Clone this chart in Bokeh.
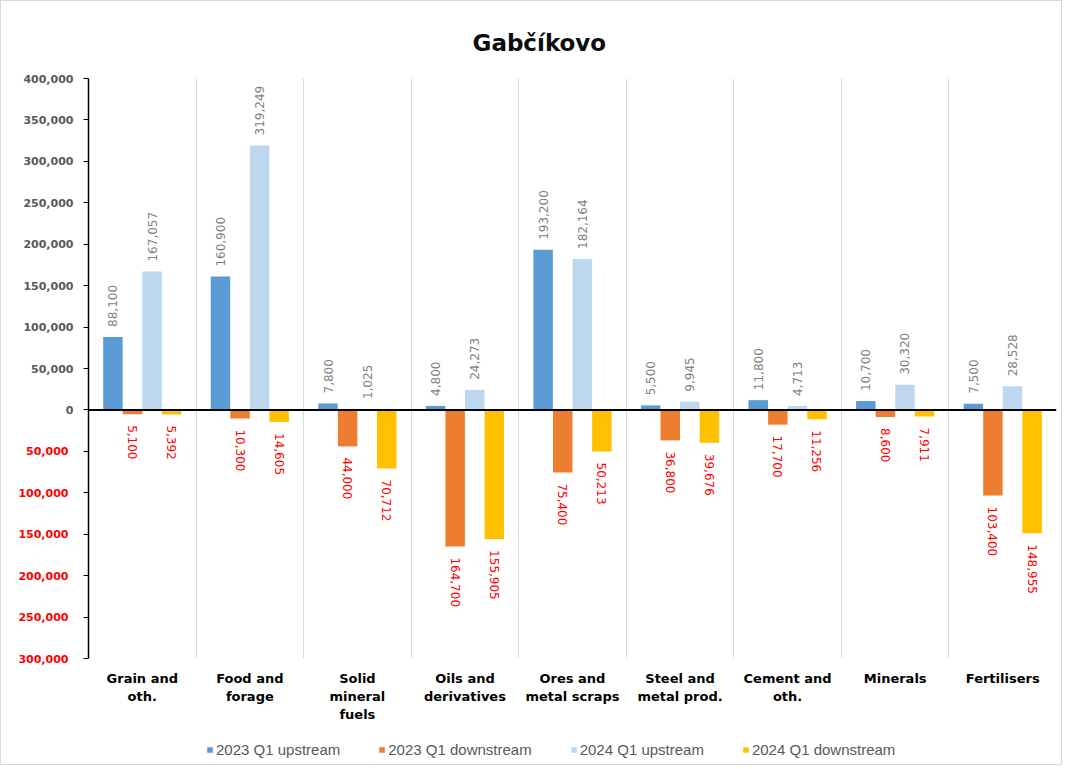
import math
from bokeh.plotting import figure
from bokeh.layouts import column
from bokeh.models import (ColumnDataSource, FixedTicker, Span, Legend, LegendItem,
                          LinearAxis, NumeralTickFormatter, CustomJSTickFormatter, Range1d)
from bokeh.core.properties import value
from bokeh.embed import file_html
from bokeh.resources import INLINE

# ---------------- data ----------------
categories = ["Grain and\noth.", "Food and\nforage", "Solid\nmineral\nfuels",
              "Oils and\nderivatives", "Ores and\nmetal scraps", "Steel and\nmetal prod.",
              "Cement and\noth.", "Minerals", "Fertilisers"]
series_names = ["2023 Q1 upstream", "2023 Q1 downstream", "2024 Q1 upstream", "2024 Q1 downstream"]
up_2023 = [88100, 160900, 7800, 4800, 193200, 5500, 11800, 10700, 7500]
down_2023 = [-5100, -10300, -44000, -164700, -75400, -36800, -17700, -8600, -103400]
up_2024 = [167057, 319249, 1025, 24273, 182164, 9945, 4713, 30320, 28528]
down_2024 = [-5392, -14605, -70712, -155905, -50213, -39676, -11256, -7911, -148955]
pos_ticks = [0, 50000, 100000, 150000, 200000, 250000, 300000, 350000, 400000]
neg_ticks = [-50000, -100000, -150000, -200000, -250000, -300000]

series = [up_2023, down_2023, up_2024, down_2024]
colors = ["#5b9bd5", "#ed7d31", "#bdd7ee", "#ffc000"]
offsets = [-0.273, -0.091, 0.091, 0.273]
bar_w = 0.181
FONT = "DejaVu Sans"

p = figure(frame_width=968, frame_height=580, output_backend="svg", toolbar_location=None,
           x_range=Range1d(0, len(categories)), y_range=Range1d(-300000, 400000),
           min_border_left=87, min_border_right=5, min_border_top=77, min_border_bottom=70,
           title="Gabčíkovo")
p.outline_line_color = None
p.background_fill_color = "white"
p.border_fill_color = "white"

p.title.align = "left"
p.title.offset = 384
p.title.text_font = FONT
p.title.text_font_size = "23px"
p.title.text_font_style = "bold"
p.title.text_color = "#0d0d0d"
p.title.standoff = 45

# grid
p.ygrid.visible = False
p.xgrid.ticker = FixedTicker(ticks=list(range(1, len(categories) + 1)))
p.xgrid.grid_line_color = "#d9d9d9"
p.xgrid.grid_line_width = 1

# x axis
p.xaxis.ticker = FixedTicker(ticks=[i + 0.5 for i in range(len(categories))])
p.xaxis.major_label_overrides = {i + 0.5: c for i, c in enumerate(categories)}
p.xaxis.axis_line_color = None
p.xaxis.major_tick_line_color = None
p.xaxis.minor_tick_line_color = None
p.xaxis.major_tick_out = 0
p.xaxis.major_label_standoff = 12
p.xaxis.major_label_text_font = FONT
p.xaxis.major_label_text_font_size = "13px"
p.xaxis.major_label_text_font_style = "bold"
p.xaxis.major_label_text_color = "#000000"

# y axis (positive ticks, grey)
p.yaxis.ticker = FixedTicker(ticks=pos_ticks, minor_ticks=neg_ticks)
p.yaxis.formatter = NumeralTickFormatter(format="0,0")
p.yaxis.axis_line_color = "black"
p.yaxis.axis_line_width = 1.5
p.yaxis.major_tick_line_color = "black"
p.yaxis.minor_tick_line_color = "black"
p.yaxis.major_tick_out = 5
p.yaxis.major_tick_in = 0
p.yaxis.minor_tick_out = 5
p.yaxis.minor_tick_in = 0
p.yaxis.major_label_standoff = 10
p.yaxis.major_label_text_font = FONT
p.yaxis.major_label_text_font_size = "11px"
p.yaxis.major_label_text_font_style = "bold"
p.yaxis.major_label_text_color = "#595959"

# second y axis (negative ticks, red, shown without sign), stacked outside the
# first one and pulled back onto the same label column
neg_axis = LinearAxis(ticker=FixedTicker(ticks=neg_ticks),
                      formatter=CustomJSTickFormatter(code="return Math.abs(tick).toLocaleString('en-US');"))
neg_axis.axis_line_color = None
neg_axis.major_tick_line_color = None
neg_axis.minor_tick_line_color = None
neg_axis.major_tick_out = 0
neg_axis.major_tick_in = 0
neg_axis.major_label_standoff = -48
neg_axis.major_label_text_font = FONT
neg_axis.major_label_text_font_size = "11px"
neg_axis.major_label_text_font_style = "bold"
neg_axis.major_label_text_color = "#ff0000"
p.add_layout(neg_axis, "left")

# legend strip below the chart (its view window lies far above the data,
# so only the legend swatches of these series are seen there)
lg = figure(width=87 + 968 + 5, height=36, output_backend="svg", toolbar_location=None,
            x_range=Range1d(0, len(categories)), y_range=Range1d(1e8, 1e8 + 1),
            x_axis_location=None, y_axis_location=None, min_border=0)
lg.outline_line_color = None
lg.grid.visible = False
items = []

# bars
for k, (vals, name, col) in enumerate(zip(series, series_names, colors)):
    xs = [i + 0.5 + offsets[k] for i in range(len(categories))]
    src = ColumnDataSource(dict(x=xs, top=vals,
                                t=[f"{abs(v):,}" for v in vals]))
    p.vbar(x="x", top="top", bottom=0, width=bar_w, source=src,
           fill_color=col, line_color=None)
    r = lg.vbar(x="x", top="top", bottom=0, width=bar_w, source=src,
                fill_color=col, line_color=None)
    items.append(LegendItem(label=name, renderers=[r]))
    if vals[0] >= 0:
        p.text(x="x", y="top", text="t", source=src, angle=math.pi / 2,
               text_align="left", text_baseline="middle", y_offset=-10,
               text_font=value(FONT), text_font_size="12px", text_color="#7f7f7f")
    else:
        p.text(x="x", y="top", text="t", source=src, angle=-math.pi / 2,
               text_align="left", text_baseline="middle", y_offset=11,
               text_font=value(FONT), text_font_size="12px", text_color="#ff0000")

p.add_layout(Span(location=0, dimension="width", line_color="black", line_width=2))

legend = Legend(items=items, orientation="horizontal", location=(118, 6),
                border_line_color=None, background_fill_alpha=0,
                label_text_font="Liberation Sans", label_text_font_size="15px",
                label_text_color="#595959", glyph_width=7, glyph_height=7,
                spacing=38, label_standoff=3, padding=0, margin=0)
lg.add_layout(legend)

layout = column(p, lg, spacing=0, styles={"border": "1px solid #d9d9d9"})

open("out.html", "w").write(file_html(layout, INLINE))
